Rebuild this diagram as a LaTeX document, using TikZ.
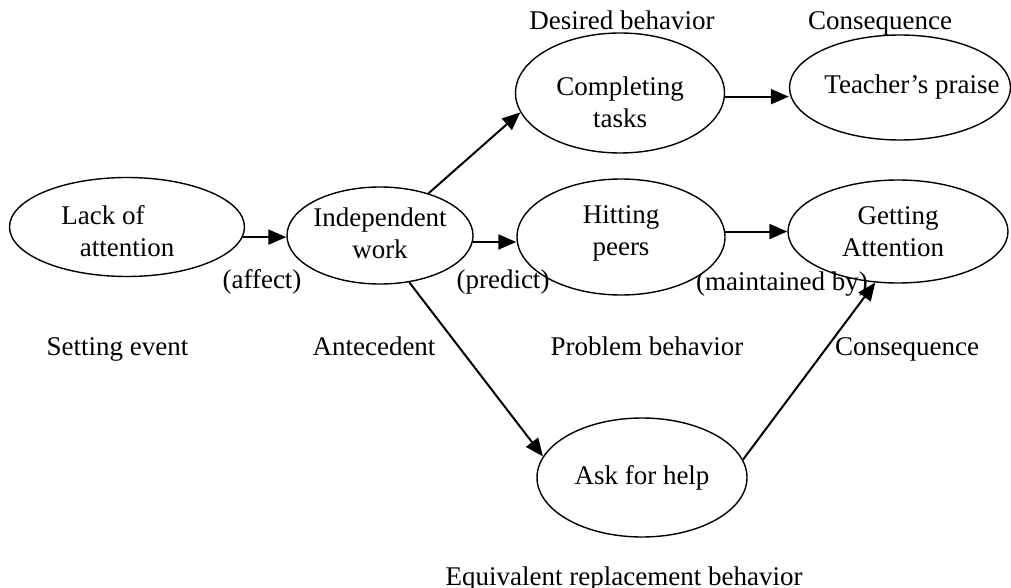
\documentclass[tikz,border=0pt]{standalone}
\usepackage{fontspec}
\setmainfont{Liberation Serif}
\usetikzlibrary{shapes.geometric,arrows.meta}
\newcommand{\txtfont}{\fontsize{13.5pt}{16pt}\selectfont}
\begin{document}
\begin{tikzpicture}[x=0.5pt,y=-0.5pt,
  oval/.style 2 args={draw, ellipse, line width=0.7pt, inner sep=-14pt,
    minimum width=#1*0.5pt, minimum height=#2*0.5pt, font=\txtfont, align=center},
  lbl/.style={anchor=base, font=\txtfont, inner sep=0pt},
  arr/.style={line width=1pt, -{Triangle[length=9pt,width=7.5pt]}}]
\useasboundingbox (0,0) rectangle (1011,588);

% ellipses
\node[oval={235}{99}]  (lack)       at (127,227)   {\rule{0pt}{13.7pt}Lack of\hspace*{24pt}\\attention};
\node[oval={186}{97}]  (indep)      at (380,235.5) {Independent\\work\rule[-2.5pt]{0pt}{0pt}};
\node[oval={208}{116}] (hitting)    at (621,237)   {Hitting\\peers\rule[-6.9pt]{0pt}{0pt}};
\node[oval={220}{103}] (getting)    at (898,231.5) {Getting\\Attention\hspace*{5pt}};
\node[oval={209}{120}] (completing) at (620,93)    {\rule{0pt}{19pt}Completing\\tasks};
\node[oval={221}{105}] (teacher)    at (900,87.5)  {\hspace*{12pt}Teacher’s praise};
\node[oval={210}{119}] (ask)        at (642,477.5) {Ask for help};

% connectors
\draw[arr] (lack.-5) -- (lack.-5 -| indep.west);
\draw[arr] (indep.-4) -- (indep.-4 -| hitting.west);
\draw[arr] (hitting.3) -- (hitting.3 -| getting.west);
\draw[arr] (completing.-2) -- (completing.-2 -| teacher.west);
\draw[arr] (indep.41) -- (completing.191);
\draw[arr] (indep.-58) -- (ask.168);
\draw[arr] (ask.10) -- (getting.246);

% labels
\node[lbl] (desired)  at (622,30)  {Desired behavior};
\node[lbl] (conseq1)  at (880,30)  {Consequence};
\node[lbl] (affect)   at (262,288) {(affect)};
\node[lbl] (predict)  at (503,288) {(predict)};
\node[lbl] (maint)    at (782,290) {(maintained by)};
\node[lbl] (setting)  at (117.5,355) {Setting event};
\node[lbl] (antec)    at (374,355) {Antecedent};
\node[lbl] (problem)  at (647,355) {Problem behavior};
\node[lbl] (conseq2)  at (907,355) {Consequence};
\node[lbl] (equiv)    at (624,585) {Equivalent replacement behavior};
\end{tikzpicture}
\end{document}
